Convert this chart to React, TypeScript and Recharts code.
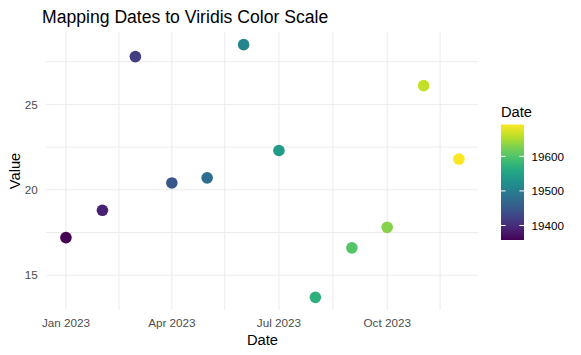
import React from "react";
import { ScatterChart, Scatter, XAxis, YAxis, ReferenceLine } from "recharts";

const dates = [
  "2023-01-01", "2023-02-01", "2023-03-01", "2023-04-01", "2023-05-01", "2023-06-01",
  "2023-07-01", "2023-08-01", "2023-09-01", "2023-10-01", "2023-11-01", "2023-12-01",
];
const values = [17.2, 18.8, 27.8, 20.4, 20.7, 28.5, 22.3, 13.7, 16.6, 17.8, 26.1, 21.8];

const xMajorDates = ["2023-01-01", "2023-04-01", "2023-07-01", "2023-10-01"];
const xMinorDates = ["2023-02-15", "2023-05-16", "2023-08-16", "2023-11-15"];
const yMajor = [15, 20, 25];
const yMinor = [17.5, 22.5, 27.5];
const legendTicks = [19400, 19500, 19600];

const viridis = [
  "#440154", "#482475", "#414487", "#355f8d", "#2a788e", "#21918c",
  "#22a884", "#44bf70", "#7ad151", "#bddf26", "#fde725",
];

const MONTHS = ["Jan", "Feb", "Mar", "Apr", "May", "Jun", "Jul", "Aug", "Sep", "Oct", "Nov", "Dec"];
const FONT = "'Liberation Sans', Arial, sans-serif";

const toDay = (s: string) => Date.parse(s + "T00:00:00Z") / 86400000;

function viridisAt(t: number) {
  const p = Math.max(0, Math.min(1, t)) * (viridis.length - 1);
  const i = Math.min(Math.floor(p), viridis.length - 2);
  const f = p - i;
  const a = viridis[i], b = viridis[i + 1];
  const ch = (h: string, k: number) => parseInt(h.slice(1 + 2 * k, 3 + 2 * k), 16);
  const c = [0, 1, 2].map((k) => Math.round(ch(a, k) + (ch(b, k) - ch(a, k)) * f));
  return `rgb(${c[0]},${c[1]},${c[2]})`;
}

const days = dates.map(toDay);
const dMin = Math.min(...days);
const dMax = Math.max(...days);
const vMin = Math.min(...values);
const vMax = Math.max(...values);
const xPad = (dMax - dMin) * 0.05;
const yPad = (vMax - vMin) * 0.05;

const data = days.map((d, i) => ({
  x: d,
  y: values[i],
  color: viridisAt((d - dMin) / (dMax - dMin)),
}));

const fmtDate = (v: number) => {
  const d = new Date(v * 86400000);
  return `${MONTHS[d.getUTCMonth()]} ${d.getUTCFullYear()}`;
};

const Dot = (props: any) => (
  <circle cx={props.cx} cy={props.cy} r={5.8} fill={props.payload.color} />
);

function ColorLegend() {
  const top = 124.5;
  const bottom = 240;
  const left = 501;
  const right = 524;
  const yOf = (v: number) => top + ((dMax - v) / (dMax - dMin)) * (bottom - top);
  return (
    <svg width={581} height={355} style={{ position: "absolute", left: 0, top: 0 }}>
      <defs>
        <linearGradient id="vir" x1="0" y1="1" x2="0" y2="0">
          {viridis.map((c, i) => (
            <stop key={i} offset={i / (viridis.length - 1)} stopColor={c} />
          ))}
        </linearGradient>
      </defs>
      <text x={42} y={22.5} fontFamily={FONT} fontSize={17.6} fill="#000">
        Mapping Dates to Viridis Color Scale
      </text>
      <text x={501} y={116.5} fontFamily={FONT} fontSize={14.7} fill="#000">
        Date
      </text>
      <rect x={left} y={top} width={right - left} height={bottom - top} fill="url(#vir)" />
      {legendTicks.map((t) => (
        <g key={t}>
          <line x1={left} x2={left + 4.6} y1={yOf(t)} y2={yOf(t)} stroke="#fff" strokeWidth={1} />
          <line x1={right - 4.6} x2={right} y1={yOf(t)} y2={yOf(t)} stroke="#fff" strokeWidth={1} />
          <text x={531.5} y={yOf(t) + 4.2} fontFamily={FONT} fontSize={11.7} fill="#000">
            {t}
          </text>
        </g>
      ))}
    </svg>
  );
}

export default function App() {
  const tickStyle = { fill: "#4d4d4d", fontSize: 11.7, fontFamily: FONT };
  return (
    <div style={{ position: "absolute", left: 0, top: 0, width: 581, height: 355, background: "#fff" }}>
      <ScatterChart
        width={581}
        height={355}
        margin={{ top: 32, right: 102.4, bottom: 0, left: 0 }}
        style={{ fontFamily: FONT }}
      >
        <XAxis
          type="number"
          dataKey="x"
          domain={[dMin - xPad, dMax + xPad]}
          ticks={xMajorDates.map(toDay)}
          tickFormatter={fmtDate}
          axisLine={false}
          tickLine={false}
          tickSize={4}
          tickMargin={5}
          height={45}
          tick={tickStyle}
          allowDataOverflow
          label={{ value: "Date", position: "insideBottom", offset: 10, fill: "#000", fontSize: 14.7, fontFamily: FONT }}
        />
        <YAxis
          type="number"
          dataKey="y"
          domain={[vMin - yPad, vMax + yPad]}
          ticks={yMajor}
          axisLine={false}
          tickLine={false}
          tickSize={4}
          tickMargin={4.6}
          width={46.3}
          tick={tickStyle}
          allowDataOverflow
          label={{
            value: "Value",
            angle: -90,
            position: "insideLeft",
            offset: 14.5,
            fill: "#000",
            fontSize: 14.7,
            fontFamily: FONT,
            style: { textAnchor: "middle" },
          }}
        />
        {[...xMinorDates, ...xMajorDates].map((d) => (
          <ReferenceLine key={d} x={toDay(d)} stroke="#ebebeb" strokeWidth={1} />
        ))}
        {[...yMinor, ...yMajor].map((v) => (
          <ReferenceLine key={v} y={v} stroke="#ebebeb" strokeWidth={1} />
        ))}
        <Scatter data={data} shape={Dot} isAnimationActive={false} />
      </ScatterChart>
      <ColorLegend />
    </div>
  );
}
